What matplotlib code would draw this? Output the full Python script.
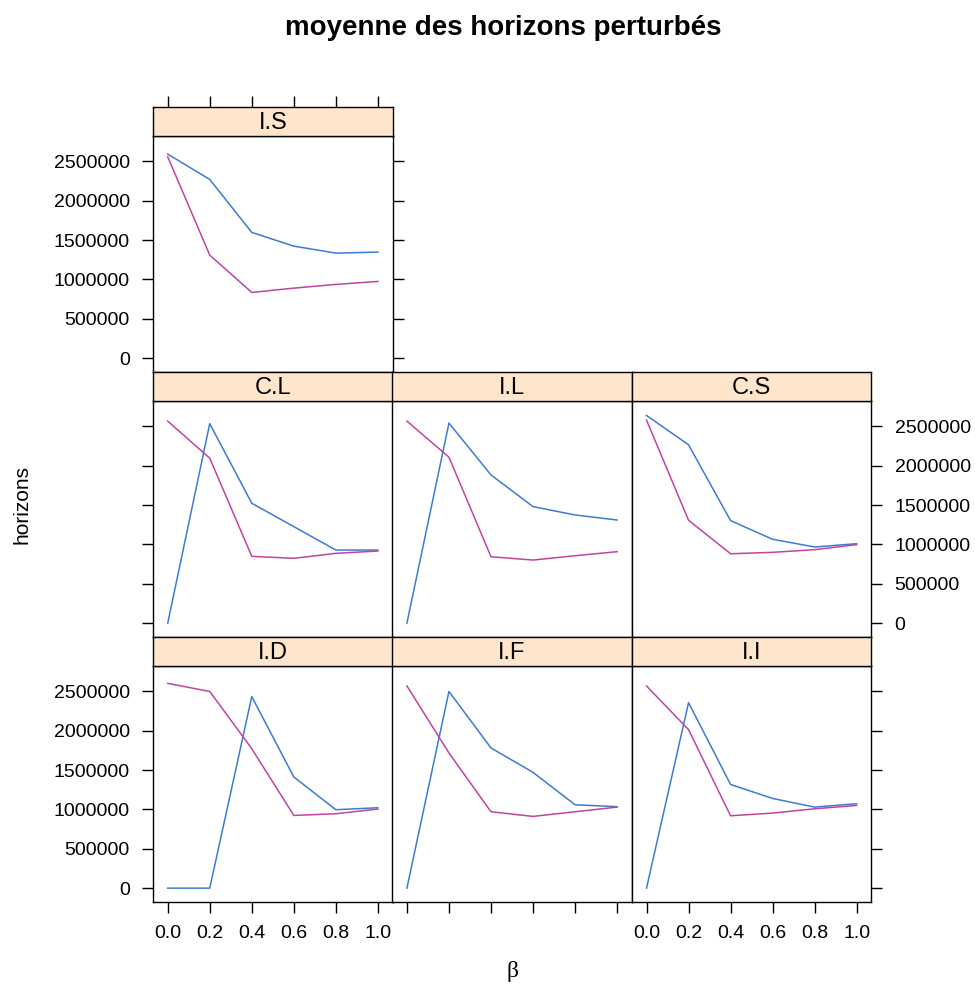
import matplotlib
matplotlib.use("Agg")
import matplotlib.pyplot as plt

plt.rcParams['font.family'] = ['Liberation Sans', 'DejaVu Sans']

# valeurs de beta
beta = [0.0, 0.2, 0.4, 0.6, 0.8, 1.0]

# horizons moyens, serie bleue / serie rose, par panneau
is_bleu = [2594000, 2272000, 1598000, 1424000, 1335000, 1348000]
is_rose = [2560000, 1310000, 835000, 890000, 937000, 975000]

cl_bleu = [0, 2536000, 1524000, 1227000, 929000, 929000]
cl_rose = [2568000, 2097000, 849000, 824000, 887000, 917000]

il_bleu = [0, 2543000, 1884000, 1481000, 1375000, 1311000]
il_rose = [2568000, 2110000, 844000, 802000, 857000, 908000]

cs_bleu = [2640000, 2267000, 1303000, 1066000, 968000, 1010000]
cs_rose = [2581000, 1308000, 882000, 900000, 934000, 998000]

id_bleu = [0, 0, 2435000, 1413000, 997000, 1022000]
id_rose = [2603000, 2500000, 1773000, 924000, 946000, 1005000]

if_bleu = [0, 2500000, 1782000, 1472000, 1060000, 1035000]
if_rose = [2570000, 1718000, 971000, 912000, 971000, 1030000]

ii_bleu = [0, 2358000, 1318000, 1140000, 1030000, 1073000]
ii_rose = [2570000, 2015000, 920000, 954000, 1009000, 1051000]

y_ticks = [0, 500000, 1000000, 1500000, 2000000, 2500000]
x_ticks = [0.0, 0.2, 0.4, 0.6, 0.8, 1.0]
x_labels = ['0.0', '0.2', '0.4', '0.6', '0.8', '1.0']

# (nom, ligne, colonne, bleu, rose)
panels = [
    ('I.S', 0, 0, is_bleu, is_rose),
    ('C.L', 1, 0, cl_bleu, cl_rose),
    ('I.L', 1, 1, il_bleu, il_rose),
    ('C.S', 1, 2, cs_bleu, cs_rose),
    ('I.D', 2, 0, id_bleu, id_rose),
    ('I.F', 2, 1, if_bleu, if_rose),
    ('I.I', 2, 2, ii_bleu, ii_rose),
]

W, H = 975, 990
fig = plt.figure(figsize=(W / 100, H / 100), dpi=100)


def box(x0, y0, w, h):
    # pixels (origine en haut a gauche) -> fraction de figure
    return [x0 / W, 1 - (y0 + h) / H, w / W, h / H]


col_x = [153, 392.2, 631.8]
col_w = 239.6
grid_top = 107.3
row_h = 265.0
strip_h = 29.0
panel_h = row_h - strip_h

XLIM = (-0.07, 1.07)
YLIM = (-180000, 2820000)
BLEU = '#3b7bd4'
ROSE = '#c1449f'
TICK_LEN = 8.2
FS = 14

for name, r, c, bleu, rose in panels:
    x0 = col_x[c]
    y_strip = grid_top + r * row_h
    y_panel = y_strip + strip_h

    ax = fig.add_axes(box(x0, y_panel, col_w, panel_h))
    ax.plot(beta, bleu, color=BLEU, lw=1.1)
    ax.plot(beta, rose, color=ROSE, lw=1.1)
    ax.set_xlim(*XLIM)
    ax.set_ylim(*YLIM)
    ax.set_yticks(y_ticks)
    ax.set_yticklabels([str(v) for v in y_ticks])
    ax.set_xticks(x_ticks)
    ax.set_xticklabels(x_labels)
    for s in ax.spines.values():
        s.set_linewidth(1.0)

    left = c == 0
    right = (c == 2) or (r == 0)
    bottom = r == 2
    ax.tick_params(axis='y', direction='out', length=TICK_LEN, width=1.0,
                   labelsize=FS, pad=8.5,
                   left=left, labelleft=left and r != 1,
                   right=right, labelright=(c == 2 and r == 1))
    ax.tick_params(axis='x', direction='out', length=TICK_LEN, width=1.0,
                   labelsize=FS, pad=8.5,
                   bottom=bottom, labelbottom=bottom and c != 1,
                   top=False, labeltop=False)

    # bandeau
    sx = fig.add_axes(box(x0, y_strip, col_w, strip_h))
    sx.set_facecolor('#ffe5cc')
    sx.set_xlim(*XLIM)
    sx.set_ylim(0, 1)
    sx.set_yticks([])
    sx.set_xticks(x_ticks)
    sx.tick_params(axis='x', direction='out', length=TICK_LEN, width=1.0,
                   bottom=False, labelbottom=False,
                   top=(r == 0), labeltop=False)
    for s in sx.spines.values():
        s.set_linewidth(1.0)
    sx.text(0.5, 0.45, name, transform=sx.transAxes, ha='center', va='center',
            fontsize=17)

fig.text(503.5 / W, 1 - 28 / H, 'moyenne des horizons perturbés',
         ha='center', va='center', fontsize=20, fontweight='bold')
fig.text(22 / W, 1 - 505 / H, 'horizons', rotation=90,
         ha='center', va='center', fontsize=15)
fig.text(512 / W, 1 - 971 / H, 'β', ha='center', va='center',
         fontsize=17, family=['Liberation Serif', 'DejaVu Serif'])

fig.savefig('out.png', dpi=100)
